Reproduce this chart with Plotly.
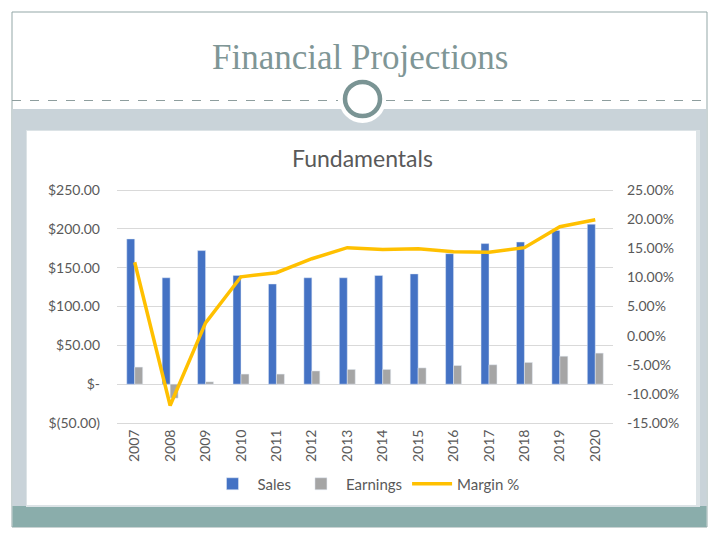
import plotly.graph_objects as go

years = [str(y) for y in range(2007, 2021)]
sales = [187, 137, 172, 140, 129, 137, 137, 140, 142, 168, 181, 183, 198, 206]
earnings = [22, -18, 3, 13, 13, 17, 19, 19, 21, 24, 25, 28, 36, 40]
margin = [12.6, -12.0, 2.2, 10.1, 10.8, 13.2, 15.1, 14.8, 14.9, 14.4, 14.3, 15.1, 18.7, 19.9]

left_vals = [250, 200, 150, 100, 50, 0, -50]
left_text = ["$250.00", "$200.00", "$150.00", "$100.00", "$50.00", "$-", "$(50.00)"]
right_vals = [25, 20, 15, 10, 5, 0, -5, -10, -15]
right_text = ["25.00%", "20.00%", "15.00%", "10.00%", "5.00%", "0.00%", "-5.00%", "-10.00%", "-15.00%"]

W, H = 720, 540
OFF = 8  # page body margin
def px(x):
    return (x - OFF) / W
def py(y):
    return 1 - (y - OFF) / H

# plot area: $-50 at y=423, $250 at y=190 -> extend a little above so the top gridline shows
PPU = (423 - 190) / 300.0
TOP_EXTRA = 3
top_px = 190 - TOP_EXTRA * PPU
# right axis must keep -15% at 423 and 25% at 190
r_ppu = (423 - 190) / 40.0
r_top = 25 + TOP_EXTRA * PPU / r_ppu

fig = go.Figure()
fig.add_trace(go.Bar(x=years, y=sales, name="Sales", marker_color="#4472C4"))
fig.add_trace(go.Bar(x=years, y=earnings, name="Earnings", marker_color="#A5A5A5"))
fig.add_trace(go.Scatter(x=years, y=margin, name="Margin %", mode="lines",
                         line=dict(color="#FFC000", width=3.5), yaxis="y2"))

axis_font = dict(family="Lato, Open Sans, sans-serif", size=14, color="#595959")

fig.update_layout(
    width=W, height=H,
    margin=dict(l=0, r=0, t=0, b=0),
    paper_bgcolor="white",
    plot_bgcolor="rgba(0,0,0,0)",
    barmode="group",
    bargap=0.55,
    bargroupgap=0,
    showlegend=True,
    legend=dict(orientation="h", x=px(366), xanchor="center", y=py(484), yanchor="middle",
                font=dict(family="Lato, Open Sans, sans-serif", size=15, color="#595959"),
                bgcolor="rgba(0,0,0,0)", traceorder="normal", itemwidth=40),
    xaxis=dict(domain=[px(117), px(613)], tickangle=-90, showgrid=False,
               showline=True, linecolor="#D9D9D9", linewidth=1, ticks="",
               tickfont=axis_font, automargin=False, anchor="y"),
    yaxis=dict(domain=[py(423), py(top_px)], range=[-50, 250 + TOP_EXTRA], tickvals=left_vals,
               ticktext=left_text, showgrid=True, gridcolor="#D9D9D9", gridwidth=1,
               zeroline=True, zerolinecolor="#D9D9D9", zerolinewidth=1,
               tickfont=axis_font, automargin=False, ticklabelstandoff=16),
    yaxis2=dict(overlaying="y", side="right", range=[-15, r_top], tickvals=right_vals,
                ticktext=right_text, showgrid=False, zeroline=False,
                tickfont=axis_font, automargin=False, anchor="x", ticklabelstandoff=13),
)

shapes = []
# outer slide border
shapes.append(dict(type="rect", xref="paper", yref="paper", x0=px(12), x1=px(707),
                   y0=py(527), y1=py(12), line=dict(color="#93A7A7", width=1),
                   fillcolor="white", layer="below"))
# gray-blue band
shapes.append(dict(type="rect", xref="paper", yref="paper", x0=px(12.5), x1=px(706.5),
                   y0=py(506), y1=py(109), line=dict(width=0),
                   fillcolor="#C9D3D9", layer="below"))
# teal bottom band
shapes.append(dict(type="rect", xref="paper", yref="paper", x0=px(12.5), x1=px(706.5),
                   y0=py(527), y1=py(506), line=dict(width=0),
                   fillcolor="#8AADAB", layer="below"))
# chart box (light border then white)
shapes.append(dict(type="rect", xref="paper", yref="paper", x0=px(26), x1=px(700),
                   y0=py(507), y1=py(130), line=dict(width=0),
                   fillcolor="#DCE3E6", layer="below"))
shapes.append(dict(type="rect", xref="paper", yref="paper", x0=px(27), x1=px(696),
                   y0=py(505), y1=py(131), line=dict(width=0),
                   fillcolor="white", layer="below"))
# dashed lines
shapes.append(dict(type="line", xref="paper", yref="paper", x0=px(12), x1=px(338),
                   y0=py(100.5), y1=py(100.5), line=dict(color="#8E9E9E", width=1, dash="dash"),
                   layer="below"))
shapes.append(dict(type="line", xref="paper", yref="paper", x0=px(386), x1=px(707),
                   y0=py(100.5), y1=py(100.5), line=dict(color="#8E9E9E", width=1, dash="dash"),
                   layer="below"))
# white disc behind ring
shapes.append(dict(type="circle", xref="paper", yref="paper", x0=px(339), x1=px(386),
                   y0=py(123), y1=py(76), line=dict(width=0), fillcolor="white", layer="below"))
# ring
shapes.append(dict(type="circle", xref="paper", yref="paper", x0=px(345), x1=px(380),
                   y0=py(116), y1=py(82), line=dict(color="#7A9494", width=4.5),
                   fillcolor="white", layer="below"))
fig.update_layout(shapes=shapes)

fig.add_annotation(text="Financial Projections", xref="paper", yref="paper",
                   x=px(360), y=py(57), xanchor="center", yanchor="middle", showarrow=False,
                   font=dict(family="Liberation Serif, DejaVu Serif, serif", size=35, color="#7F9696"))
fig.add_annotation(text="Fundamentals", xref="paper", yref="paper",
                   x=px(362), y=py(158), xanchor="center", yanchor="middle", showarrow=False,
                   font=dict(family="Lato, Open Sans, sans-serif", size=23, color="#595959"))

fig.write_html("out.html")
